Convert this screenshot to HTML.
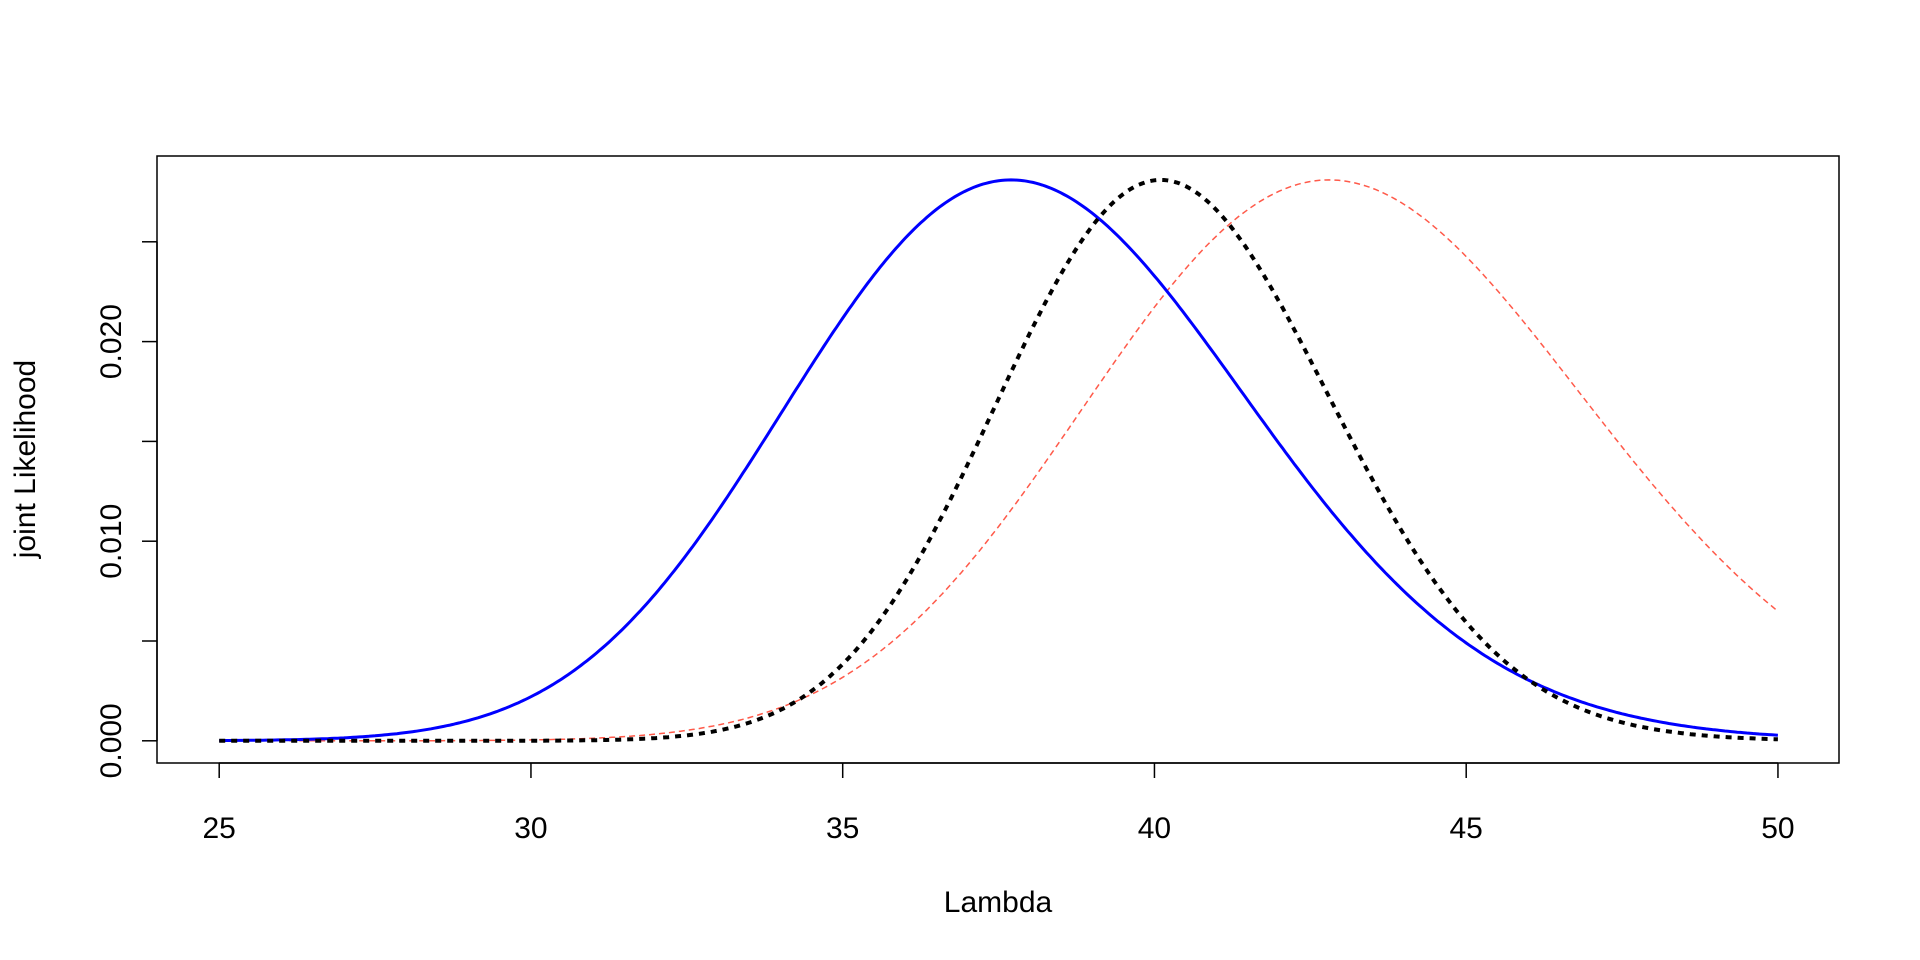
<!DOCTYPE html>
<html><head><meta charset="utf-8"><style>html,body{margin:0;padding:0;background:#fff}svg{display:block}</style></head>
<body>
<svg id="s" width="1920" height="960" xmlns="http://www.w3.org/2000/svg" font-family="Liberation Sans, Arial, sans-serif" font-size="30">
<rect x="157" y="156" width="1682" height="607" fill="none" stroke="#000" stroke-width="1.5"/>
<g id="ax" stroke="#000" stroke-width="1.5"></g>
<g id="lab" text-anchor="middle"></g>
<text x="998" y="912" text-anchor="middle">Lambda</text>
<text transform="translate(35,459) rotate(-90)" text-anchor="middle">joint Likelihood</text>
<g id="curves" fill="none"></g>
</svg>
<script>
const X=v=>219.2+(v-25)*62.35, Y=v=>740.8-v*19960;
const ax=document.getElementById('ax'),lab=document.getElementById('lab'),cv=document.getElementById('curves');
let h='',t='';
h+=`<line x1="${X(25)}" y1="763" x2="${X(50)}" y2="763"/>`;
for(let v=25;v<=50;v+=5){h+=`<line x1="${X(v)}" y1="763" x2="${X(v)}" y2="778"/>`;t+=`<text x="${X(v)}" y="838">${v}</text>`;}
h+=`<line x1="157" y1="${Y(0)}" x2="157" y2="${Y(0.025)}"/>`;
for(let i=0;i<=5;i++){const v=i*0.005;h+=`<line x1="157" y1="${Y(v)}" x2="142" y2="${Y(v)}"/>`;
 if(i%2==0)t+=`<text transform="translate(121,${Y(v)}) rotate(-90)">${v.toFixed(3)}</text>`;}
ax.innerHTML=h;lab.innerHTML=t;
function path(m,a){let d='';for(let l=25;l<=50.001;l+=0.05){const r=l/m;const f=0.0281*Math.exp(a*(Math.log(r)-r+1));d+=(d?'L':'M')+X(l).toFixed(1)+','+Y(f).toFixed(1);}return d;}
cv.innerHTML=`<path d="${path(42.8,115)}" stroke="#ff5a4a" stroke-width="1.5" stroke-dasharray="6 4"/>
<path d="${path(37.7,105)}" stroke="#0000ff" stroke-width="3"/>
<path d="${path(40.1,225)}" stroke="#000" stroke-width="4" stroke-dasharray="6 6"/>`;
</script>
</body></html>
